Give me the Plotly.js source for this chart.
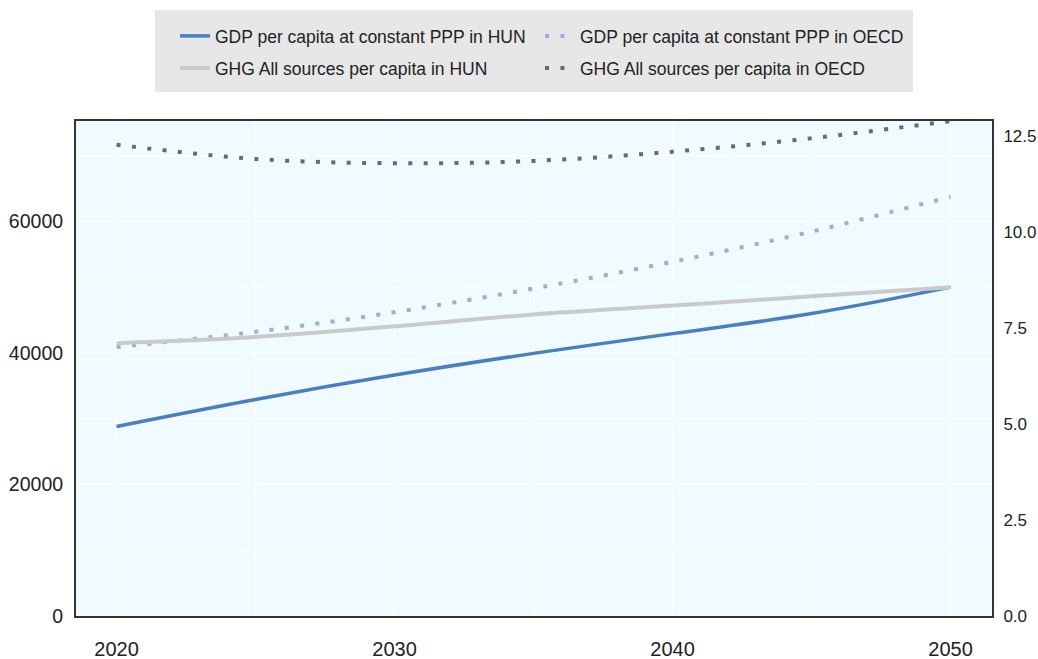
<!DOCTYPE html>
<html>
<head>
<meta charset="utf-8">
<script src="https://cdn.plot.ly/plotly-3.0.1.min.js"></script>
<style>
  html, body { margin: 0; padding: 0; background: #ffffff; }
  #chart { width: 1038px; height: 659px; }
</style>
</head>
<body>
<div id="chart"></div>
<script>
// Projection years
const years = [2020, 2025, 2030, 2035, 2040, 2045, 2050];

// GDP per capita at constant PPP (USD) — left axis
const gdpHUN  = [28800, 32900, 36600, 39900, 42900, 45950, 49960];
const gdpOECD = [40850, 43170, 46160, 49750, 53800, 58400, 63700];

// GHG emissions, all sources, per capita (t CO2e) — right axis
const ghgHUN  = [7.11, 7.27, 7.55, 7.86, 8.09, 8.33, 8.57];
const ghgOECD = [12.28, 11.91, 11.80, 11.86, 12.10, 12.45, 12.90];

// Series labels
const names = [
  'GDP per capita at constant PPP in HUN',
  'GDP per capita at constant PPP in OECD',
  'GHG All sources per capita in HUN',
  'GHG All sources per capita in OECD'
];

const FONT = 'Liberation Sans, Arial, Helvetica, sans-serif';

const traces = [
  {
    x: years, y: gdpHUN, name: names[0], type: 'scatter', mode: 'lines',
    line: { color: '#4a7ec0', width: 3.5, shape: 'spline', smoothing: 1.1 },
    yaxis: 'y', legend: 'legend'
  },
  {
    x: years, y: gdpOECD, name: names[1], type: 'scatter', mode: 'lines',
    line: { color: '#a4a9dc', width: 4, dash: '4px,11.4px', shape: 'spline', smoothing: 1.0 },
    yaxis: 'y', legend: 'legend'
  },
  {
    x: years, y: ghgHUN, name: names[2], type: 'scatter', mode: 'lines',
    line: { color: '#cacaca', width: 4, shape: 'spline', smoothing: 1.0 },
    yaxis: 'y2', legend: 'legend2'
  },
  {
    x: years, y: ghgOECD, name: names[3], type: 'scatter', mode: 'lines',
    line: { color: '#6a6a6a', width: 4, dash: '4px,11.4px', shape: 'spline', smoothing: 1.0 },
    yaxis: 'y2', legend: 'legend2'
  }
];

const legendCommon = {
  orientation: 'h',
  xref: 'container', yref: 'container',
  xanchor: 'left', yanchor: 'middle',
  bgcolor: 'rgba(0,0,0,0)',
  borderwidth: 0,
  entrywidth: 320, entrywidthmode: 'pixels',
  font: { family: FONT, size: 17.5, color: '#222222' },
  traceorder: 'normal'
};

const layout = {
  width: 1038, height: 659,
  margin: { l: 76, r: 46, t: 121, b: 43, pad: 0 },
  paper_bgcolor: '#ffffff',
  plot_bgcolor: '#effbfe',
  font: { family: FONT, size: 19, color: '#222222' },
  showlegend: true,
  legend: Object.assign({}, legendCommon, { x: 175 / 1038, y: 1 - 36 / 659 }),
  legend2: Object.assign({}, legendCommon, { x: 175 / 1038, y: 1 - 68 / 659 }),
  shapes: [
    {
      type: 'rect', xref: 'paper', yref: 'paper', layer: 'below',
      x0: (155 - 76) / 916, x1: (913 - 76) / 916,
      y0: (616 - 92) / 495, y1: (616 - 10) / 495,
      fillcolor: '#e7e7e7', line: { width: 0 }
    }
  ],
  xaxis: {
    range: [2018.543, 2051.49],
    tick0: 2020, dtick: 10,
    ticks: '', showline: true, mirror: true,
    linecolor: '#333333', linewidth: 2,
    showgrid: true, gridcolor: '#ffffff', gridwidth: 1,
    minor: { dtick: 5, showgrid: true, gridcolor: '#ffffff', gridwidth: 1 },
    zeroline: false,
    ticklabelstandoff: 14,
    tickfont: { family: FONT, size: 20, color: '#222222' }
  },
  yaxis: {
    range: [0, 75200],
    tick0: 0, dtick: 20000, tickformat: 'd',
    ticks: '', showline: true, mirror: true,
    linecolor: '#333333', linewidth: 2,
    showgrid: true, gridcolor: '#ffffff', gridwidth: 1,
    minor: { dtick: 10000, showgrid: true, gridcolor: '#ffffff', gridwidth: 1 },
    zeroline: false,
    ticklabelstandoff: 7,
    tickfont: { family: FONT, size: 19.5, color: '#222222' }
  },
  yaxis2: {
    range: [0, 12.9],
    tick0: 0, dtick: 2.5, tickformat: '.1f',
    overlaying: 'y', side: 'right',
    ticks: '', showline: true,
    linecolor: '#333333', linewidth: 2,
    showgrid: false, zeroline: false,
    ticklabelstandoff: 6,
    tickfont: { family: FONT, size: 17, color: '#222222' }
  }
};

Plotly.newPlot('chart', traces, layout, { displayModeBar: false, staticPlot: true });
</script>
</body>
</html>
